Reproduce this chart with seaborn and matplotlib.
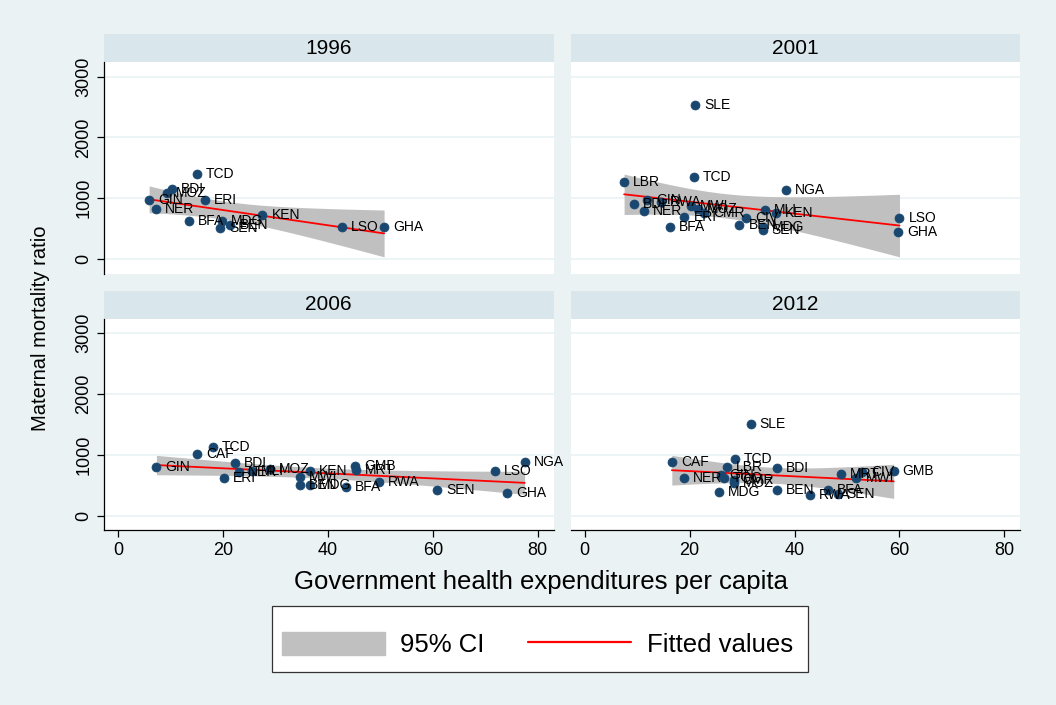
import math
import numpy as np
import pandas as pd
import matplotlib
matplotlib.use("Agg")
import matplotlib.pyplot as plt
from matplotlib.patches import Rectangle, Patch
from matplotlib.lines import Line2D
import seaborn as sns

# Country codes, govt health expenditure per capita, maternal mortality ratio
codes_1996 = ["TCD", "BDI", "MOZ", "GIN", "NER", "ERI", "BFA", "MDG", "BEN", "SEN", "KEN", "LSO", "GHA"]
exp_1996 = [15.0, 10.3, 9.3, 5.9, 7.2, 16.5, 13.5, 19.8, 21.4, 19.5, 27.5, 42.7, 50.7]
mmr_1996 = [1400, 1160, 1090, 970, 820, 970, 620, 620, 560, 510, 720, 530, 520]

codes_2001 = ["SLE", "TCD", "LBR", "NGA", "LSO", "GHA", "BDI", "GIN", "RWA", "NER", "MWI", "MOZ",
              "ERI", "CMR", "CIV", "BEN", "MDG", "SEN", "BFA", "MLI", "KEN"]
exp_2001 = [21.1, 20.8, 7.5, 38.4, 60.0, 59.7, 9.4, 11.9, 14.6, 11.2, 20.2, 21.5,
            19.0, 22.7, 30.7, 29.5, 33.9, 33.9, 16.3, 34.4, 36.5]
mmr_2001 = [2530, 1350, 1260, 1140, 680, 445, 905, 970, 940, 785, 865, 830,
            700, 755, 680, 560, 535, 470, 527, 805, 765]

codes_2006 = ["GIN", "CAF", "TCD", "BDI", "ERI", "NER", "MLI", "MOZ", "MWI", "KEN", "BEN", "MDG",
              "BFA", "GMB", "MRT", "RWA", "SEN", "LSO", "GHA", "NGA"]
exp_2006 = [7.3, 15.0, 18.1, 22.3, 20.1, 23.0, 25.5, 29.0, 34.7, 36.6, 34.7, 36.6,
            43.5, 45.1, 45.4, 49.7, 60.8, 71.9, 74.2, 77.5]
mmr_2006 = [800, 1020, 1125, 860, 620, 715, 735, 765, 640, 725, 505, 505,
            475, 815, 755, 545, 425, 725, 365, 885]

codes_2012 = ["SLE", "TCD", "CAF", "LBR", "BDI", "NER", "GIN", "TGO", "CMR", "MOZ", "MDG", "BEN",
              "RWA", "BFA", "SEN", "MRT", "CIV", "MWI", "GMB"]
exp_2012 = [31.6, 28.6, 16.6, 27.1, 36.7, 18.9, 25.9, 26.5, 28.4, 28.4, 25.5, 36.7,
            42.9, 46.3, 48.2, 48.8, 52.9, 51.8, 58.9]
mmr_2012 = [1500, 935, 880, 795, 780, 615, 670, 615, 590, 530, 395, 425,
            340, 415, 350, 690, 715, 615, 740]

years = ["1996", "2001", "2006", "2012"]
panels = [(codes_1996, exp_1996, mmr_1996), (codes_2001, exp_2001, mmr_2001),
          (codes_2006, exp_2006, mmr_2006), (codes_2012, exp_2012, mmr_2012)]

bg = "#EAF2F3"
strip = "#D9E6EB"
navy = "#1A476F"
ci_gray = "#C0C0C0"


def t_crit(df, p=0.975):
    # two-sided t quantile by integrating the t density (no scipy here)
    c = math.gamma((df + 1) / 2) / (math.sqrt(df * math.pi) * math.gamma(df / 2))
    grid = np.linspace(0, 10, 200001)
    pdf = c * (1 + grid ** 2 / df) ** (-(df + 1) / 2)
    cdf = 0.5 + np.concatenate([[0], np.cumsum((pdf[1:] + pdf[:-1]) / 2 * np.diff(grid))])
    return float(np.interp(p, cdf, grid))


def lfitci(x, y, npts=100):
    # OLS fit with 95% CI of the mean prediction, like Stata's lfitci
    x = np.asarray(x, float)
    y = np.asarray(y, float)
    n = len(x)
    b, a = np.polyfit(x, y, 1)
    resid = y - (a + b * x)
    s = np.sqrt((resid ** 2).sum() / (n - 2))
    grid = np.linspace(x.min(), x.max(), npts)
    fit = a + b * grid
    se = s * np.sqrt(1 / n + (grid - x.mean()) ** 2 / ((x - x.mean()) ** 2).sum())
    t = t_crit(n - 2)
    return grid, fit, fit - t * se, fit + t * se


sns.set_style("white")
plt.rcParams['font.family'] = ['Liberation Sans', 'DejaVu Sans']
plt.rcParams['text.color'] = 'black'
plt.rcParams['xtick.color'] = 'black'
plt.rcParams['ytick.color'] = 'black'

fig, axes = plt.subplots(2, 2, figsize=(10.56, 7.05), dpi=100, sharex=True, sharey=True)
fig.patch.set_facecolor(bg)
fig.subplots_adjust(left=0.0985, right=0.966, top=0.912, bottom=0.248, wspace=0.038, hspace=0.212)

for i, ax in enumerate(axes.flat):
    codes, xs, ys = panels[i]
    df = pd.DataFrame({"code": codes, "exp": xs, "mmr": ys})
    ax.set_facecolor("white")
    for yv in [0, 1000, 2000, 3000]:
        ax.axhline(yv, color=bg, lw=1.2, zorder=0)
    gx, fit, lo, hi = lfitci(df["exp"], df["mmr"])
    ax.fill_between(gx, lo, hi, color=ci_gray, lw=0, zorder=1)
    sns.lineplot(x=gx, y=fit, ax=ax, color="red", lw=1.3, zorder=3)
    sns.scatterplot(data=df, x="exp", y="mmr", ax=ax, color=navy, s=42, edgecolor=navy,
                    linewidth=0.5, zorder=4)
    for c, xv, yv in zip(codes, xs, ys):
        ax.annotate(c, (xv, yv), xytext=(6.5, 0), textcoords="offset points", va="center",
                    ha="left", fontsize=10, zorder=5)
    ax.set_xlim(-2.7, 83)
    ax.set_ylim(-240, 3240)
    ax.set_xlabel("")
    ax.set_ylabel("")
    for s in ax.spines.values():
        s.set_visible(False)
    # strip title
    ax.add_patch(Rectangle((0, 1.0), 1, 0.132, transform=ax.transAxes, clip_on=False,
                           facecolor=strip, edgecolor="none"))
    ax.text(0.5, 1.066, years[i], transform=ax.transAxes, ha="center", va="center", fontsize=15)
    ax.tick_params(left=False, bottom=False, labelleft=False, labelbottom=False)

for ax in axes[:, 0]:
    ax.spines["left"].set_visible(True)
    ax.spines["left"].set_color("black")
    ax.spines["left"].set_linewidth(0.9)
    ax.set_yticks([0, 1000, 2000, 3000])
    ax.tick_params(left=True, labelleft=True, direction="out", length=5, width=0.9, labelsize=13)
    for lab in ax.get_yticklabels():
        lab.set_rotation(90)
        lab.set_va("center")

for ax in axes[1, :]:
    ax.spines["bottom"].set_visible(True)
    ax.spines["bottom"].set_color("black")
    ax.spines["bottom"].set_linewidth(0.9)
    ax.set_xticks([0, 20, 40, 60, 80])
    ax.tick_params(bottom=True, labelbottom=True, direction="out", length=5, width=0.9, labelsize=13)

fig.text(0.038, 0.535, "Maternal mortality ratio", rotation=90, ha="center", va="center", fontsize=14.5)
fig.text(0.512, 0.174, "Government health expenditures per capita", ha="center", va="center", fontsize=18.5)

# legend box
fig.patches.append(Rectangle((272 / 1056, 1 - 672 / 705), 536 / 1056, 66 / 705, transform=fig.transFigure,
                             facecolor="white", edgecolor="#333333", lw=0.9, zorder=0))
handles = [Patch(facecolor=ci_gray, edgecolor=ci_gray), Line2D([0], [0], color="red", lw=1.6)]
fig.legend(handles, ["95% CI", "Fitted values"], loc="upper center", bbox_to_anchor=(0.509, 1 - 609 / 705),
           ncol=2, frameon=False, fontsize=18.5, handlelength=4.0, handleheight=1.0, columnspacing=1.7,
           handletextpad=0.6)

fig.savefig("out.png", dpi=100, facecolor=bg)
